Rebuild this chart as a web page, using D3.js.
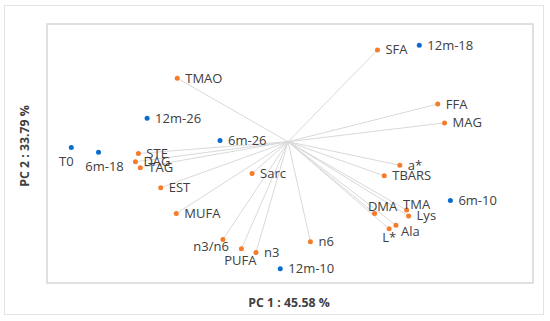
<!DOCTYPE html>
<html>
    <head>
        <title></title>
        <script src="https://d3js.org/d3.v7.min.js"></script>
    </head>

    <body style="margin:0">
        <svg id="biplot" width="550" height="321"></svg>
    </body>

    <script>

        // sample scores (blue)
        var sampleNames = ["T0", "6m-18", "12m-26", "6m-26", "12m-18", "6m-10", "12m-10"]
        var samplePC1 = [-2.23, -1.95, -1.45, -0.70, 1.35, 1.67, -0.08]
        var samplePC2 = [-0.05, -0.09, 0.20, 0.01, 0.82, -0.50, -1.08]

        // variable loadings (orange)
        var varNames = ["TMAO", "STE", "DAG", "TAG", "EST", "MUFA", "n3/n6", "PUFA", "n3", "n6", "Sarc",
                        "SFA", "FFA", "MAG", "a*", "TBARS", "DMA", "TMA", "Lys", "Ala", "L*"]
        var varPC1 = [-1.14, -1.54, -1.57, -1.52, -1.31, -1.15, -0.67, -0.48, -0.33, 0.23, -0.37,
                      0.92, 1.54, 1.61, 1.15, 0.99, 0.89, 1.22, 1.24, 1.11, 1.04]
        var varPC2 = [0.54, -0.10, -0.17, -0.22, -0.39, -0.61, -0.83, -0.91, -0.94, -0.85, -0.27,
                      0.78, 0.32, 0.16, -0.20, -0.29, -0.61, -0.58, -0.63, -0.71, -0.74]

        var xTitle = "PC 1 : 45.58 %"
        var yTitle = "PC 2 : 33.79 %"

        // label placement: [anchor, dx, dy] - default is to the right
        var labelPlace = {
            "T0": ["middle", -5, 14],
            "6m-18": ["middle", 6, 14],
            "n3/n6": ["end", 6, 7],
            "PUFA": ["middle", -1, 12],
            "DMA": ["middle", 8, -7],
            "TMA": ["middle", 10, -6],
            "Ala": ["start", 5, 6],
            "L*": ["middle", 0, 9]
        }

        var blue = "#0a6ccc"
        var orange = "#f57c2a"
        var textCol = "#404040"

        var svg = d3.select("#biplot")

        svg.append("rect")
        .attr("x", 4.5).attr("y", 5.5)
        .attr("width", 539).attr("height", 309)
        .attr("fill", "#fff")
        .attr("stroke", "#e3e3e3")

        var x = d3.scaleLinear()
        .domain([-2.48, 2.52])
        .range([47, 533])

        var y = d3.scaleLinear()
        .domain([-1.2, 1.0])
        .range([283, 24])

        // plot area frame
        svg.append("rect")
        .attr("x", x.range()[0]).attr("y", y.range()[1])
        .attr("width", x.range()[1] - x.range()[0])
        .attr("height", y.range()[0] - y.range()[1])
        .attr("fill", "none")
        .attr("stroke", "#d6d6d6")
        .attr("stroke-width", 1.5)

        var vars = varNames.map(function(n, i) { return {name: n, x: varPC1[i], y: varPC2[i]} })
        var samples = sampleNames.map(function(n, i) { return {name: n, x: samplePC1[i], y: samplePC2[i]} })

        // loading vectors
        svg.selectAll(".vec")
        .data(vars)
        .enter()
        .append("line")
        .attr("x1", x(0)).attr("y1", y(0))
        .attr("x2", function(d) { return x(d.x) })
        .attr("y2", function(d) { return y(d.y) })
        .attr("stroke", "#d9d9d9")
        .attr("stroke-width", 1)

        function drawPoints(data, color) {
            svg.append("g")
            .selectAll("circle")
            .data(data)
            .enter()
            .append("circle")
            .attr("cx", function(d) { return x(d.x) })
            .attr("cy", function(d) { return y(d.y) })
            .attr("r", 2.5)
            .attr("fill", color)

            svg.append("g")
            .selectAll("text")
            .data(data)
            .enter()
            .append("text")
            .attr("x", function(d) {
                var p = labelPlace[d.name] || ["start", 8, 0]
                return x(d.x) + p[1]
            })
            .attr("y", function(d) {
                var p = labelPlace[d.name] || ["start", 8, 0]
                return y(d.y) + p[2]
            })
            .attr("text-anchor", function(d) {
                return (labelPlace[d.name] || ["start"])[0]
            })
            .attr("dy", "0.35em")
            .attr("font-family", "Open Sans")
            .attr("font-size", 13)
            .attr("fill", textCol)
            .text(function(d) { return d.name })
        }

        drawPoints(vars, orange)
        drawPoints(samples, blue)

        // axis titles
        svg.append("text")
        .attr("x", 289).attr("y", 303)
        .attr("dy", "0.35em")
        .attr("text-anchor", "middle")
        .attr("font-family", "Open Sans")
        .attr("font-weight", "bold")
        .attr("font-size", 12.3)
        .attr("fill", textCol)
        .text(xTitle)

        svg.append("text")
        .attr("transform", "translate(25,146) rotate(-90)")
        .attr("dy", "0.35em")
        .attr("text-anchor", "middle")
        .attr("font-family", "Open Sans")
        .attr("font-weight", "bold")
        .attr("font-size", 12.3)
        .attr("fill", textCol)
        .text(yTitle)
    </script>
</html>
